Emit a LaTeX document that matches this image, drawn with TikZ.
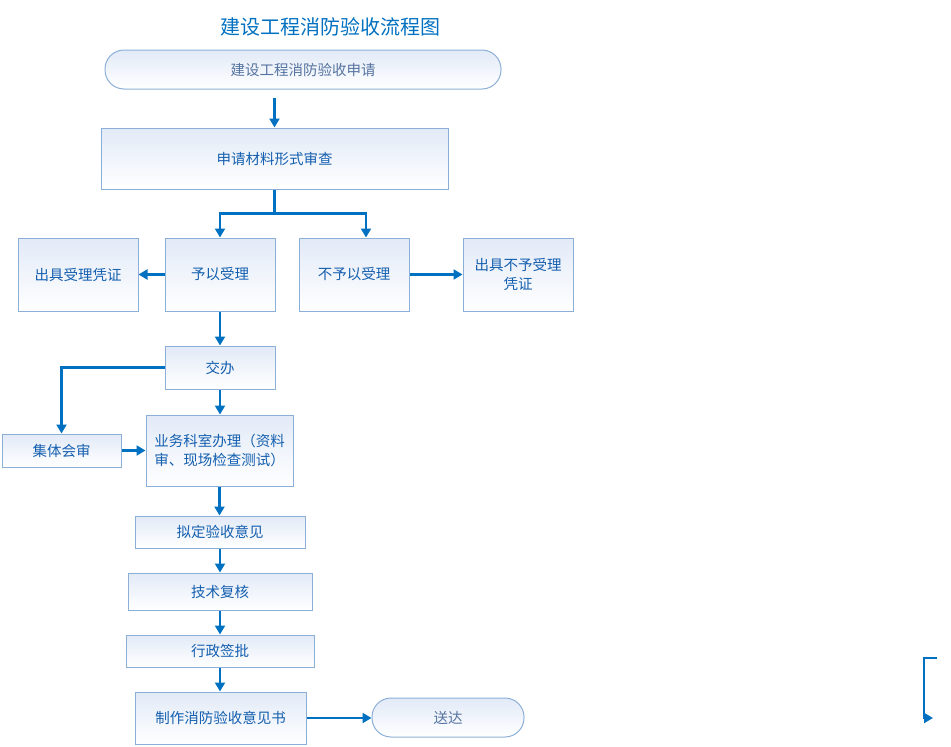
\documentclass[tikz,border=0pt]{standalone}
\usepackage{fontspec}
\setmainfont{Noto Sans CJK SC}
\usetikzlibrary{arrows.meta}
\definecolor{flowblue}{RGB}{0,112,192}
\definecolor{boxline}{RGB}{140,175,215}
\definecolor{boxtop}{RGB}{226,234,247}
\definecolor{boxtext}{RGB}{20,95,175}
\definecolor{termtext}{RGB}{85,115,160}
\tikzset{
  box/.style={draw=boxline, line width=1pt, top color=boxtop, bottom color=white,
    text=boxtext, font=\fontsize{14.5}{19}\selectfont, inner sep=2pt},
  term/.style={box, rounded corners=19pt, text=termtext},
  arrow/.style={draw=flowblue, line width=2.3pt, -{Triangle[length=9pt,width=10pt]}}
}
\begin{document}
\begin{tikzpicture}[x=1pt,y=-1pt]
\useasboundingbox (0,0) rectangle (951,747);
\node (title) [text=flowblue, font=\fontsize{20}{24}\selectfont] at (330,27) {建设工程消防验收流程图};
\node (start) [term, minimum width=396pt, minimum height=39pt] at (303,69.5) {建设工程消防验收申请};
\node (check) [box, minimum width=347pt, minimum height=61pt] at (274.5,158.5) {申请材料形式审查};
\node (accept) [box, minimum width=110pt, minimum height=73pt] at (220,274.5) {予以受理};
\node (reject) [box, minimum width=110pt, minimum height=73pt] at (354,274.5) {不予以受理};
\node (acceptdoc) [box, minimum width=120pt, minimum height=73pt] at (78,274.5) {出具受理凭证};
\node (rejectdoc) [box, minimum width=110pt, minimum height=73pt, align=center] at (518,274.5) {出具不予受理\\凭证};
\node (assign) [box, minimum width=110pt, minimum height=43pt] at (220,367.5) {交办};
\node (joint) [box, minimum width=119pt, minimum height=33pt] at (61.5,450.5) {集体会审};
\node (handle) [box, minimum width=147pt, minimum height=71pt, align=left] at (219.5,450.5) {业务科室办理（资料\\审、现场检查测试）};
\node (draft) [box, minimum width=170pt, minimum height=32pt] at (220,532) {拟定验收意见};
\node (review) [box, minimum width=184pt, minimum height=37pt] at (220,591.5) {技术复核};
\node (approve) [box, minimum width=188pt, minimum height=32pt] at (220,651) {行政签批};
\node (issue) [box, minimum width=171pt, minimum height=52pt] at (220.5,718) {制作消防验收意见书};
\node (deliver) [term, minimum width=152pt, minimum height=39pt] at (448,717.5) {送达};
\coordinate (loosetop) at (937,658);
\coordinate (looseend) at (933,718);

\draw [arrow, shorten <=8pt] (start.south -| check.north) -- (check.north);
\draw [arrow] (check.south) -- ++(0,24) -| (accept.north);
\draw [arrow] (check.south) -- ++(0,24) -| ([xshift=12pt]reject.north);
\draw [arrow] (accept.west) -- (acceptdoc.east);
\draw [arrow] (reject.east) -- (rejectdoc.west);
\draw [arrow] (accept.south) -- (assign.north);
\draw [arrow] (assign.west) -| (joint.north);
\draw [arrow] (joint.east) -- (joint.east -| handle.west);
\draw [arrow] (assign.south) -- (assign.south |- handle.north);
\draw [arrow] (handle.south) -- (handle.south |- draft.north);
\draw [arrow] (draft.south) -- (draft.south |- review.north);
\draw [arrow] (review.south) -- (review.south |- approve.north);
\draw [arrow] (approve.south) -- (approve.south |- issue.north);
\draw [arrow] (issue.east) -- (issue.east -| deliver.west);
\draw [arrow] (loosetop) -- ++(-13,0) |- (looseend);
\end{tikzpicture}
\end{document}
